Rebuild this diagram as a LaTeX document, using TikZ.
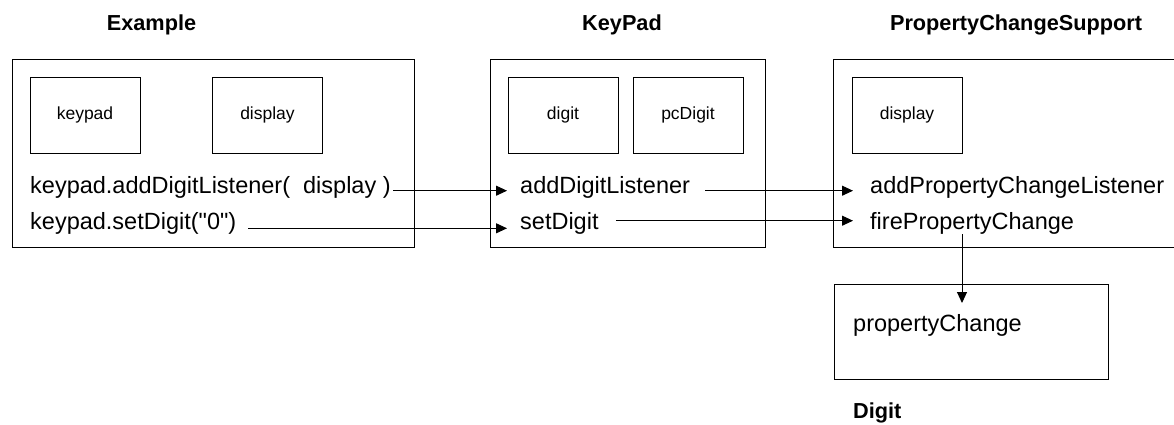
\documentclass[tikz,border=0pt]{standalone}
\usepackage{fontspec}
\setmainfont{Liberation Sans}
\newfontfamily\rawfont{Liberation Sans}[Ligatures=TeXOff]
\usetikzlibrary{arrows.meta}
\begin{document}
\begin{tikzpicture}[x=1pt,y=-1pt,
  box/.style={draw,line width=1pt,inner sep=0pt,outer sep=0pt},
  inbox/.style={box,minimum width=110pt,minimum height=76pt,font=\fontsize{17.5}{20}\selectfont},
  lbl/.style={anchor=base west,inner sep=0pt,font=\fontsize{23.5}{28}\selectfont},
  ttl/.style={anchor=base,inner sep=0pt,font=\fontsize{21.7}{26}\selectfont\bfseries},
  arr/.style={line width=1pt,-{Triangle[length=11pt,width=10pt]}}]
\useasboundingbox (0,0) rectangle (1174,424);
\clip (0,0) rectangle (1174,424);
% outer boxes
\node[box,minimum width=402pt,minimum height=188pt] (ex) at (213,153) {};
\node[box,minimum width=275pt,minimum height=188pt] (kp) at (627.5,153) {};
\node[box,minimum width=360pt,minimum height=188pt,anchor=north west] (pcs) at (833,59) {};
\node[box,minimum width=274pt,minimum height=95pt] (dg) at (971,331.5) {};
% inner boxes
\node[inbox] (exkeypad) at (85,115) {keypad};
\node[inbox] (exdisplay) at (267.5,115) {display};
\node[inbox] (kpdigit) at (563,115) {digit};
\node[inbox] (kppc) at (688,115) {pcDigit};
\node[inbox] (pcdisplay) at (907,115) {display};
% titles
\node[ttl] (tex) at (151.5,30) {Example};
\node[ttl] (tkp) at (622,30) {KeyPad};
\node[ttl] (tpc) at (1016,30) {PropertyChangeSupport};
\node[ttl,anchor=base west] (tdg) at (853,418) {Digit};
% method texts
\node[lbl] (ex1) at (30,193.5) {keypad.addDigitListener(\ \ display )};
\node[lbl] (ex2) at (30,229.3) {\rawfont keypad.setDigit("0")};
\node[lbl] (kp1) at (520,193.5) {addDigitListener};
\node[lbl] (kp2) at (520,229.3) {setDigit};
\node[lbl] (pc1) at (870,193.5) {addPropertyChangeListener};
\node[lbl] (pc2) at (870,229.3) {firePropertyChange};
\node[lbl] (dg1) at (853,331.5) {propertyChange};
% connectors
\draw[arr] ([xshift=2.5pt,yshift=2.8pt]ex1.base east) -- ([xshift=-13pt,yshift=2.8pt]kp1.base west);
\draw[arr] ([xshift=12pt,yshift=1pt]ex2.base east) -- ([xshift=-13pt,yshift=1pt]kp2.base west);
\draw[arr] ([xshift=15pt,yshift=2.8pt]kp1.base east) -- ([xshift=-17pt,yshift=2.8pt]pc1.base west);
\draw[arr] ([xshift=17pt,yshift=8.6pt]kp2.base east) -- ([xshift=-17pt,yshift=8.6pt]pc2.base west);
\coordinate (dgtip) at ([xshift=-9pt,yshift=-19pt]dg.north);
\draw[arr] (dgtip |- pc2.south) -- (dgtip);
\end{tikzpicture}
\end{document}
